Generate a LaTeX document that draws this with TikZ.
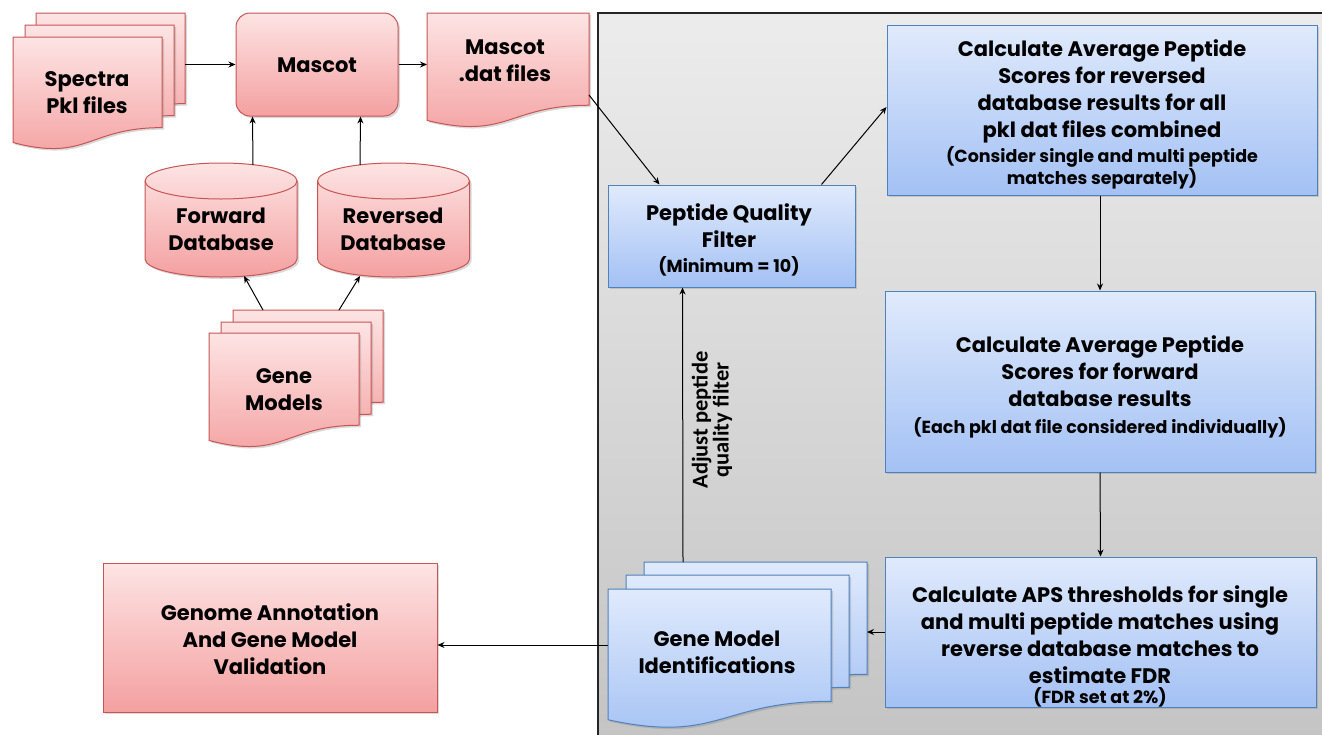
\documentclass[tikz,border=0pt]{standalone}
\usepackage{fontspec}
\setmainfont{Poppins}
\newfontfamily\labfont{Carlito}
\usetikzlibrary{arrows.meta,shadows,calc}
\definecolor{redtop}{RGB}{253,228,228}
\definecolor{redbot}{RGB}{244,160,160}
\definecolor{redline}{RGB}{200,85,85}
\definecolor{bluetop}{RGB}{224,234,252}
\definecolor{bluebot}{RGB}{163,193,244}
\definecolor{blueline}{RGB}{79,129,189}
\definecolor{paneltop}{RGB}{236,236,236}
\definecolor{panelbot}{RGB}{196,196,196}
\newcommand\docsheet[5]{%
  \pgfmathsetmacro\dsR{#2+#4}%
  \pgfmathsetmacro\dsYr{#3+0.802*#5}%
  \pgfmathsetmacro\dsM{#2+0.5*#4}%
  \pgfmathsetmacro\dsYc{#3+1.107*#5}%
  \pgfmathsetmacro\dsYl{#3+0.934*#5}%
  \path[#1] (#2,#3) -- (\dsR,#3) -- (\dsR,\dsYr) .. controls (\dsM,\dsYr) and (\dsM,\dsYc) .. (#2,\dsYl) -- cycle;}
\newcommand\dbcyl[5]{% style, cx, top, bottom, rx ; ry=18
  \pgfmathsetmacro\cyL{#2-#5}%
  \pgfmathsetmacro\cyR{#2+#5}%
  \pgfmathsetmacro\cyT{#3+18}%
  \pgfmathsetmacro\cyB{#4-18}%
  \path[#1] (\cyL,\cyB) arc[start angle=180,end angle=360,x radius=#5pt,y radius=18pt]
     -- (\cyR,\cyT) arc[start angle=0,end angle=180,x radius=#5pt,y radius=18pt] -- cycle;
  \draw[draw=redline,line width=1pt] (\cyL,\cyT) arc[start angle=180,end angle=360,x radius=#5pt,y radius=18pt];}
\newcommand\smalltxt{\fontsize{17.5}{22}\selectfont}
\begin{document}
\begin{tikzpicture}[x=1pt,y=-1pt,
  redfill/.style={draw=redline,line width=1pt,top color=redtop,bottom color=redbot,
    drop shadow={opacity=0.3,shadow xshift=2pt,shadow yshift=-2pt}},
  bluefill/.style={draw=blueline,line width=1pt,top color=bluetop,bottom color=bluebot,
    drop shadow={opacity=0.3,shadow xshift=2pt,shadow yshift=-2pt}},
  anchorbox/.style={draw=none,fill=none,inner sep=0pt,outer sep=0pt},
  big/.style={font=\bfseries\fontsize{21}{27}\selectfont,align=center,inner sep=0pt},
  arr/.style={-{Stealth[length=7pt,width=6pt]},line width=1pt,black}]
\useasboundingbox (0,0) rectangle (1322,734);
\clip (0,0) rectangle (1322,734);
% gray panel
\fill[top color=paneltop,bottom color=panelbot] (598,13) rectangle (1330,740);
\draw[line width=1.2pt,black!85] (598,740) -- (598,13) -- (1330,13);

% Spectra stack
\docsheet{redfill}{36}{13}{149}{113}
\docsheet{redfill}{25}{25}{149}{113}
\docsheet{redfill}{13}{37}{149}{113}
\node[anchorbox,minimum width=149pt,minimum height=90pt] (spectraback) at (110.5,58) {};
\node[big] (spectra) at (87,93) {Spectra\\Pkl files};

% Mascot
\node[redfill,rounded corners=14pt,minimum width=162pt,minimum height=103pt] (mascot) at (317,64.5) {};
\node[big] (mascottxt) at (317,65) {Mascot};

% Mascot dat files
\docsheet{redfill}{427}{13}{162}{115}
\node[anchorbox,minimum width=162pt,minimum height=92pt] (dat) at (508,59) {};
\node[big] (dattxt) at (505,60.5) {Mascot\\.dat files};

% databases
\dbcyl{redfill}{221}{163}{277}{76}
\node[anchorbox,minimum width=152pt,minimum height=114pt] (fwd) at (221,220) {};
\node[big] (fwdtxt) at (221,229.5) {Forward\\Database};
\dbcyl{redfill}{393.5}{163}{277}{76}
\node[anchorbox,minimum width=152pt,minimum height=114pt] (rev) at (393.5,220) {};
\node[big] (revtxt) at (393,229.5) {Reversed\\Database};

% Gene models stack
\docsheet{redfill}{233}{310}{150}{115}
\docsheet{redfill}{221}{322}{150}{115}
\docsheet{redfill}{209}{333}{150}{115}
\node[anchorbox,minimum width=150pt,minimum height=92pt] (genesback) at (308,356) {};
\node[big] (genes) at (284,390) {Gene\\Models};

% Genome annotation
\node[redfill,minimum width=334pt,minimum height=149pt] (genome) at (270,637.5) {};
\node[big] (genometxt) at (270,639) {Genome Annotation\\And Gene Model\\Validation};

% Peptide filter
\node[bluefill,minimum width=247pt,minimum height=102pt] (filter) at (731.5,236) {};
\node[big] (filtertxt) at (729,240) {Peptide Quality\\Filter\\[-2pt]\smalltxt(Minimum = 10)};

% Calc boxes
\node[bluefill,minimum width=430pt,minimum height=170pt] (calcA) at (1102,110) {};
\node[big] (calcAtxt) at (1102,114) {Calculate Average Peptide\\Scores for reversed\\database results for all\\pkl dat files combined\\[-2pt]\smalltxt(Consider single and multi peptide\\[-5pt]\smalltxt matches separately)};
\node[bluefill,minimum width=430pt,minimum height=181pt] (calcB) at (1100,381.5) {};
\node[big] (calcBtxt) at (1100,386.5) {Calculate Average Peptide\\Scores for forward\\database results\\\smalltxt(Each pkl dat file considered individually)};
\node[bluefill,minimum width=431pt,minimum height=150pt] (calcC) at (1100.5,632) {};
\node[big] (calcCtxt) at (1100,646) {Calculate APS thresholds for single\\and multi peptide matches using\\reverse database matches to\\estimate FDR\\[-7pt]\smalltxt(FDR set at 2\%)};

% Gene model identifications stack
\docsheet{bluefill}{644}{562}{223}{140}
\docsheet{bluefill}{626}{575}{223}{140}
\docsheet{bluefill}{608}{589}{223}{140}
\node[anchorbox,minimum width=223pt,minimum height=112pt] (gmiback) at (755.5,618) {};
\node[anchorbox,minimum width=223pt,minimum height=112pt] (gmifront) at (719.5,645) {};
\node[big] (gmitxt) at (717,652) {Gene Model\\Identifications};

% connectors
\draw[arr] (spectraback.east |- mascot.west) -- (mascot.west);
\draw[arr] (mascot.east) -- (dat.west |- mascot.east);
\draw[arr] ($(fwd.north)+(32,2)$) -- ($(mascot.south west)+(17,0)$);
\draw[arr] ($(rev.north)+(-33.5,2)$) -- ($(mascot.south east)+(-38,0)$);
\draw[arr] ($(genesback.north west)+(30,0)$) -- ($(fwd.south)+(23,-1)$);
\draw[arr] ($(genesback.north west)+(106,0)$) -- ($(rev.south)+(-33.5,-1)$);
\draw[arr] ($(dat.south east)+(0,-10)$) -- ($(filter.north west)+(52,0)$);
\draw[arr] ($(filter.north west)+(214,0)$) -- ($(calcA.west)+(0,-3)$);
\draw[arr] (calcA.south -| calcB.north) -- (calcB.north);
\draw[arr] (calcB.south) -- (calcC.north);
\draw[arr] (calcC.west) -- (gmiback.east |- calcC.west);
\draw[arr] ($(gmiback.north west)+(39,0)$) -- ($(filter.south west)+(75,0)$);
\draw[arr] (gmifront.west) -- (gmifront.west -| genome.east);
\node[rotate=90,align=center,font=\labfont\bfseries\fontsize{22.5}{21}\selectfont,inner sep=0pt] (adjust) at (712,420) {Adjust peptide\\quality filter};
\end{tikzpicture}
\end{document}
